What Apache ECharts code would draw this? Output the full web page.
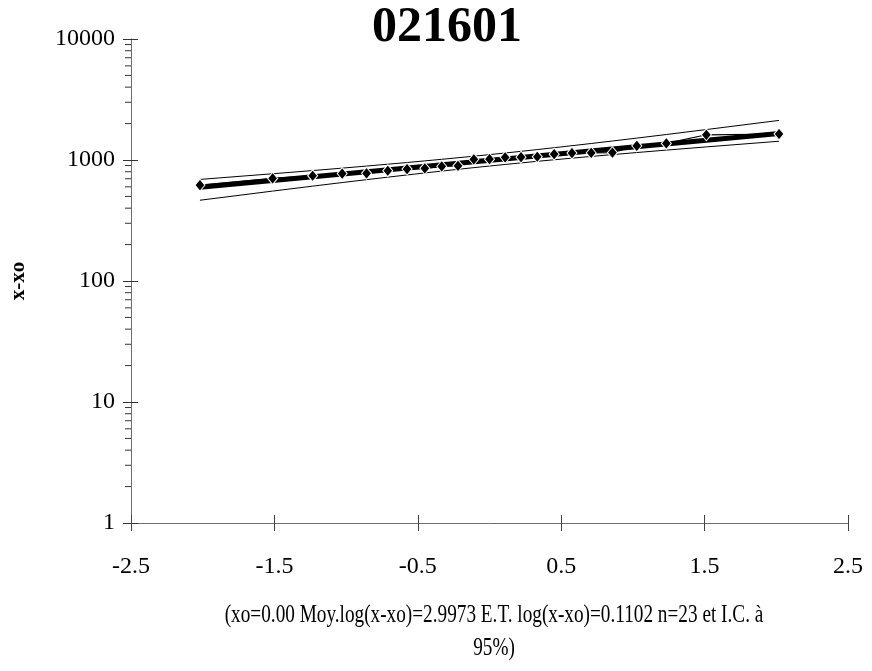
<!DOCTYPE html>
<html>
<head>
<meta charset="utf-8">
<title>021601</title>
<script src="https://cdn.jsdelivr.net/npm/echarts@6/dist/echarts.min.js"></script>
<style>
  html, body { margin: 0; padding: 0; background: #fff; }
  #chart { width: 872px; height: 671px; }
</style>
</head>
<body>
<div id="chart"></div>
<script>
// Lognormal probability plot of station 021601 (x - xo on a log scale vs. normal variate)
const chartTitle = '021601';
const yAxisTitle = 'x-xo';
const footnoteLines = [
  '(xo=0.00 Moy.log(x-xo)=2.9973 E.T. log(x-xo)=0.1102 n=23 et I.C. à',
  '95%)'
];

// Axis ticks
const xTickValues = [-2.5, -1.5, -0.5, 0.5, 1.5, 2.5];
const yTickValues = [1, 10, 100, 1000, 10000];
const yMinorTickValues = [
  2, 3, 4, 5, 6, 7, 8, 9,
  20, 30, 40, 50, 60, 70, 80, 90,
  200, 300, 400, 500, 600, 700, 800, 900,
  2000, 3000, 4000, 5000, 6000, 7000, 8000, 9000
];

// Normal variate of each ranked observation (Hazen plotting positions, n = 23)
const zScores = [
  -2.0191, -1.5124, -1.2333, -1.0272, -0.8573, -0.7093, -0.5751, -0.4509,
  -0.3330, -0.2197, -0.1092, 0, 0.1092, 0.2197, 0.3330, 0.4509,
  0.5751, 0.7093, 0.8573, 1.0272, 1.2333, 1.5124, 2.0191
];

// Ranked observations x - xo
const observed = [
  621, 704, 741, 772, 776, 815, 842, 853, 884, 896, 1014, 1016,
  1053, 1055, 1064, 1116, 1140, 1145, 1150, 1311, 1370, 1616, 1640
];

// Fitted lognormal line (end points)
const fitZ = [-2.0191, 2.0191];
const fitted = [595.4, 1658.8];

// 95% confidence limits at each plotting position
const upperCI = [
  691.2, 769.6, 817.9, 856.6, 891.2, 922.9, 953.4, 983.3, 1013.2, 1043.7, 1075.0, 1107.7,
  1142.4, 1179.3, 1219.3, 1263.4, 1312.6, 1369.0, 1435.3, 1516.9, 1624.0, 1784.7, 2124.1
];
const lowerCI = [
  465.0, 553.5, 608.1, 651.1, 688.0, 721.4, 752.3, 781.6, 810.0, 837.1, 864.7, 891.6,
  918.7, 946.4, 974.8, 1004.5, 1035.9, 1070.1, 1108.2, 1152.5, 1207.1, 1283.1, 1428.9
];

const serif = "'Liberation Serif', 'Times New Roman', serif";
const pairs = (xs, ys) => xs.map((x, i) => [x, ys[i]]);
const xMin = xTickValues[0];
const xMax = xTickValues[xTickValues.length - 1];
const yMin = yTickValues[0];
const yMax = yTickValues[yTickValues.length - 1];

const chart = echarts.init(document.getElementById('chart'), null, { renderer: 'canvas' });

const option = {
  backgroundColor: '#ffffff',
  animation: false,
  grid: { left: 131, right: 24, top: 39, bottom: 148, containLabel: false, outerBoundsMode: 'none' },
  xAxis: [
    {
      type: 'value', min: xMin, max: xMax, interval: 0.5, position: 'bottom',
      axisLine: { show: true, onZero: false, lineStyle: { color: '#6e6e6e', width: 1 } },
      axisTick: { show: true, inside: false, length: 8, customValues: xTickValues, lineStyle: { color: '#444' } },
      axisLabel: {
        show: true, customValues: xTickValues, margin: 32,
        fontFamily: serif, fontSize: 24, color: '#000',
        formatter: v => v.toFixed(1)
      },
      splitLine: { show: false }
    },
    {
      type: 'value', min: xMin, max: xMax, interval: 0.5, position: 'bottom',
      axisLine: { show: false, onZero: false },
      axisTick: { show: true, inside: true, length: 8, customValues: xTickValues, lineStyle: { color: '#444' } },
      axisLabel: { show: false },
      splitLine: { show: false }
    }
  ],
  yAxis: [
    {
      type: 'log', logBase: 10, min: yMin, max: yMax, position: 'left',
      axisLine: { show: true, onZero: false, lineStyle: { color: '#6e6e6e', width: 1 } },
      axisTick: { show: true, inside: false, length: 8, customValues: yTickValues, lineStyle: { color: '#333' } },
      axisLabel: {
        show: true, customValues: yTickValues, margin: 16,
        fontFamily: serif, fontSize: 24, color: '#000',
        formatter: v => String(Math.round(v))
      },
      minorTick: { show: false },
      splitLine: { show: false }
    },
    {
      type: 'log', logBase: 10, min: yMin, max: yMax, position: 'left',
      axisLine: { show: false, onZero: false },
      axisTick: { show: true, inside: true, length: 7, customValues: yTickValues, lineStyle: { color: '#333' } },
      axisLabel: { show: false },
      splitLine: { show: false }
    }
  ],
  graphic: [
    {
      type: 'text', x: 447, y: 28,
      style: {
        text: chartTitle, fill: '#000', textAlign: 'center', textVerticalAlign: 'middle',
        font: 'bold 50px ' + serif
      }
    },
    {
      type: 'text', x: 19, y: 281, rotation: Math.PI / 2,
      style: {
        text: yAxisTitle, fill: '#000', textAlign: 'center', textVerticalAlign: 'middle',
        font: 'bold 21px ' + serif
      }
    },
    {
      type: 'text', x: 494, y: 599, scaleX: 0.74, scaleY: 1,
      style: {
        text: footnoteLines.join('\n'), fill: '#000', textAlign: 'center', textVerticalAlign: 'top',
        font: '26px ' + serif, lineHeight: 33
      }
    }
  ],
  series: [
    {
      name: 'I.C. sup.', type: 'line', data: pairs(zScores, upperCI),
      showSymbol: false, symbol: 'none', silent: true, z: 2,
      lineStyle: { color: '#000', width: 1 }
    },
    {
      name: 'I.C. inf.', type: 'line', data: pairs(zScores, lowerCI),
      showSymbol: false, symbol: 'none', silent: true, z: 2,
      lineStyle: { color: '#000', width: 1 }
    },
    {
      name: 'Ajustement', type: 'line', data: pairs(fitZ, fitted),
      showSymbol: false, symbol: 'none', silent: true, z: 3,
      lineStyle: { color: '#000', width: 5 }
    },
    {
      name: 'Observations', type: 'line', data: pairs(zScores, observed),
      symbol: 'diamond', symbolSize: [10, 12], showSymbol: true, z: 4,
      lineStyle: { color: '#000', width: 1.2 },
      itemStyle: { color: '#000', borderColor: '#fff', borderWidth: 1 }
    },
    {
      // minor ticks at 2..9 of each decade, drawn outside the y axis
      name: 'minorTicks', type: 'custom', silent: true, clip: false, z: 5,
      data: yMinorTickValues.map(v => [xMin, v]),
      encode: { x: 0, y: 1 },
      renderItem: (params, api) => {
        const p = api.coord([api.value(0), api.value(1)]);
        return {
          type: 'line',
          shape: { x1: p[0] - 6, y1: p[1], x2: p[0], y2: p[1] },
          style: { stroke: '#333', lineWidth: 1 }
        };
      }
    }
  ]
};

chart.setOption(option);
</script>
</body>
</html>
